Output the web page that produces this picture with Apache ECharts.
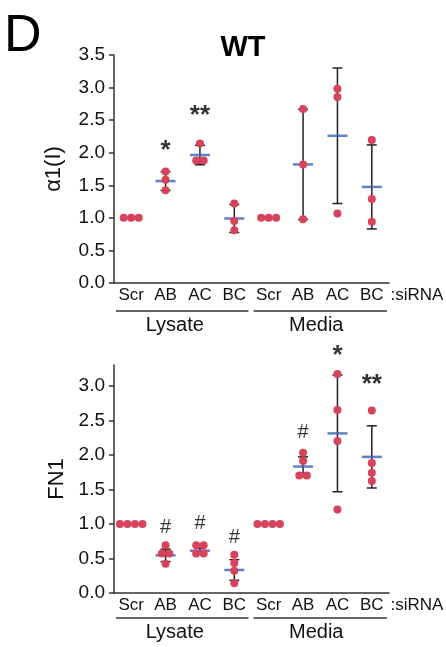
<!DOCTYPE html>
<html>
<head>
<meta charset="utf-8">
<script src="https://cdn.jsdelivr.net/npm/echarts@6/dist/echarts.min.js"></script>
<style>
  html, body { margin: 0; padding: 0; background: #fff; }
  #main { width: 446px; height: 647px; }
</style>
</head>
<body>
<div id="main"></div>
<script>
// categories (siRNA) and groups
var categories = ['Scr', 'AB', 'AC', 'BC', 'Scr', 'AB', 'AC', 'BC'];
var groups = ['Lysate', 'Media'];

// alpha1(I) - individual points, mean, SD
var colPoints = [
    [1.0, 1.0, 1.0],
    [1.71, 1.585, 1.425],
    [2.14, 1.88, 1.88],
    [1.22, 0.95, 0.81],
    [1.0, 1.0, 1.0],
    [2.67, 1.82, 0.98],
    [2.98, 2.855, 1.065],
    [2.195, 1.29, 0.94]
];
var colMean = [1.0, 1.565, 1.965, 0.99, 1.0, 1.82, 2.26, 1.475];
var colErr = [0, 0.145, 0.15, 0.215, 0, 0.845, 1.04, 0.645];
var colSig = ['', '*', '**', '', '', '', '', ''];
var colSigY = [null, 2.14, 2.68, null, null, null, null, null];

// FN1
var fnPoints = [
    [1.0, 1.0, 1.0, 1.0],
    [0.69, 0.57, 0.57, 0.425],
    [0.69, 0.69, 0.57, 0.57],
    [0.555, 0.435, 0.323, 0.14],
    [1.0, 1.0, 1.0, 1.0],
    [2.03, 1.91, 1.70, 1.70],
    [3.17, 2.65, 2.20, 1.21],
    [2.64, 1.88, 1.74, 1.62]
];
var fnMean = [1.0, 0.545, 0.613, 0.333, 1.0, 1.83, 2.31, 1.97];
var fnErr = [0, 0.09, 0.035, 0.15, 0, 0.14, 0.845, 0.45];
var fnSig = ['', '#', '#', '#', '', '#', '*', '**'];
var fnSigY = [null, 0.95, 1.0, 0.81, null, 2.32, 3.53, 3.12];

var colTicks = [0, 0.5, 1, 1.5, 2, 2.5, 3, 3.5];
var fnTicks = [0, 0.5, 1, 1.5, 2, 2.5, 3];

var FONT = "'Liberation Sans', Arial, sans-serif";
var RED = '#d8435b';
var BLUE = '#3a61b5';
var AXIS = '#333';

var chart = echarts.init(document.getElementById('main'), null, { renderer: 'canvas' });

// spread equal values side by side (pixel offsets)
function dotData(points, spacing) {
    var out = [];
    points.forEach(function (vals, i) {
        vals.forEach(function (v, k) {
            var same = [];
            vals.forEach(function (w, j) { if (Math.abs(w - v) < 0.005) same.push(j); });
            var pos = same.indexOf(k);
            var dx = (pos - (same.length - 1) / 2) * spacing;
            out.push({ value: [i, v], symbolOffset: [dx, 0] });
        });
    });
    return out;
}

function errItem(params, api) {
    var i = api.value(0), m = api.value(1), e = api.value(2);
    if (!e) return { type: 'group', children: [] };
    var top = api.coord([i, m + e]);
    var bot = api.coord([i, m - e]);
    var cw = 5;
    var st = { stroke: '#222', lineWidth: 1.5 };
    return {
        type: 'group',
        children: [
            { type: 'line', shape: { x1: top[0], y1: top[1], x2: bot[0], y2: bot[1] }, style: st },
            { type: 'line', shape: { x1: top[0] - cw, y1: top[1], x2: top[0] + cw, y2: top[1] }, style: st },
            { type: 'line', shape: { x1: bot[0] - cw, y1: bot[1], x2: bot[0] + cw, y2: bot[1] }, style: st }
        ]
    };
}

function panelSeries(g, points, mean, err, sig, sigY) {
    var sigData = [];
    sig.forEach(function (s, i) {
        if (s) sigData.push({
            value: [i, sigY[i]],
            label: {
                formatter: s,
                fontSize: s === '#' ? 20 : 26,
                fontWeight: s === '#' ? 'normal' : 'bold',
                offset: [0, s === '#' ? 0 : 7]
            }
        });
    });
    return [
        {
            type: 'custom', xAxisIndex: g, yAxisIndex: g, z: 1,
            renderItem: errItem,
            data: mean.map(function (m, i) { return [i, m, err[i]]; })
        },
        {
            type: 'scatter', xAxisIndex: g, yAxisIndex: g, z: 2,
            symbol: 'rect', symbolSize: [20, 2.5],
            itemStyle: { color: BLUE },
            data: mean.map(function (m, i) { return [i, m]; })
        },
        {
            type: 'scatter', xAxisIndex: g, yAxisIndex: g, z: 3,
            symbolSize: 8,
            itemStyle: { color: RED, opacity: 1 },
            data: dotData(points, 7.5)
        },
        {
            type: 'scatter', xAxisIndex: g, yAxisIndex: g, z: 4,
            clip: false,
            symbolSize: 1,
            itemStyle: { color: 'rgba(0,0,0,0)' },
            label: { show: true, position: 'inside', color: '#000', fontFamily: FONT },
            data: sigData
        }
    ];
}

function xAxis(g) {
    return {
        type: 'category', gridIndex: g, data: categories, boundaryGap: true,
        axisLine: { lineStyle: { color: AXIS, width: 1.5 } },
        axisTick: { show: false },
        axisLabel: { color: '#111', fontSize: 17, margin: 4, interval: 0, fontFamily: FONT },
        splitLine: { show: false }
    };
}

function yAxis(g, name, max, ticks, gap) {
    return {
        type: 'value', gridIndex: g, min: 0, max: max,
        name: name, nameLocation: 'middle', nameRotate: 90, nameGap: gap,
        nameMoveOverlap: false,
        nameTextStyle: { fontSize: 22, color: '#111', fontFamily: FONT },
        axisLine: { show: true, lineStyle: { color: AXIS, width: 1.5 } },
        axisTick: { show: true, length: 5, customValues: ticks, lineStyle: { color: AXIS, width: 1.5 } },
        axisLabel: {
            customValues: ticks, fontSize: 19, color: '#111', margin: 9, fontFamily: FONT,
            formatter: function (v) { return v.toFixed(1); }
        },
        splitLine: { show: false }
    };
}

var option = {
    animation: false,
    backgroundColor: '#fff',
    textStyle: { fontFamily: FONT },
    grid: [
        { left: 114, top: 55, width: 275, height: 228, outerBoundsMode: 'none', containLabel: false },
        { left: 114, top: 365, width: 275, height: 228, outerBoundsMode: 'none', containLabel: false }
    ],
    xAxis: [xAxis(0), xAxis(1)],
    yAxis: [
        yAxis(0, 'α1(I)', 3.5, colTicks, 49),
        yAxis(1, 'FN1', 3.3, fnTicks, 46)
    ],
    series: []
        .concat(panelSeries(0, colPoints, colMean, colErr, colSig, colSigY))
        .concat(panelSeries(1, fnPoints, fnMean, fnErr, fnSig, fnSigY))
};
chart.setOption(option);

// annotations: panel letter, title, siRNA label, group brackets
var bracketGap = [28, 25];
var groupGap = [42, 39.5];
var graphics = [
    { type: 'text', left: 4, top: 11, style: { text: 'D', fontSize: 52, fill: '#000', fontFamily: FONT } },
    { type: 'text', x: 243, y: 47.5, style: { text: 'WT', fontSize: 29, fontWeight: 'bold', fill: '#000', fontFamily: FONT, textAlign: 'center', textVerticalAlign: 'middle' } }
];
[0, 1].forEach(function (g) {
    var x0 = chart.convertToPixel({ xAxisIndex: g }, 0);
    var x1 = chart.convertToPixel({ xAxisIndex: g }, 1);
    var band = x1 - x0;
    var start = x0 - band / 2;
    var end = start + band * categories.length;
    var mid = start + band * 4;
    var y0 = chart.convertToPixel({ yAxisIndex: g }, 0);
    var ly = y0 + bracketGap[g];
    var ln = { stroke: AXIS, lineWidth: 1.5 };
    graphics.push(
        { type: 'text', x: end + 1.5, y: y0 + 12.5, style: { text: ':siRNA', fontSize: 17, fill: '#111', fontFamily: FONT, textAlign: 'left', textVerticalAlign: 'middle' } },
        { type: 'line', shape: { x1: start + 2, y1: ly, x2: mid - 3, y2: ly }, style: ln },
        { type: 'line', shape: { x1: mid + 2, y1: ly, x2: end - 2, y2: ly }, style: ln },
        { type: 'text', x: (start + mid) / 2 - 8, y: y0 + groupGap[g], style: { text: groups[0], fontSize: 20, fill: '#111', fontFamily: FONT, textAlign: 'center', textVerticalAlign: 'middle' } },
        { type: 'text', x: (mid + end) / 2 - 4, y: y0 + groupGap[g], style: { text: groups[1], fontSize: 20, fill: '#111', fontFamily: FONT, textAlign: 'center', textVerticalAlign: 'middle' } }
    );
});
chart.setOption({ graphic: graphics });
</script>
</body>
</html>
